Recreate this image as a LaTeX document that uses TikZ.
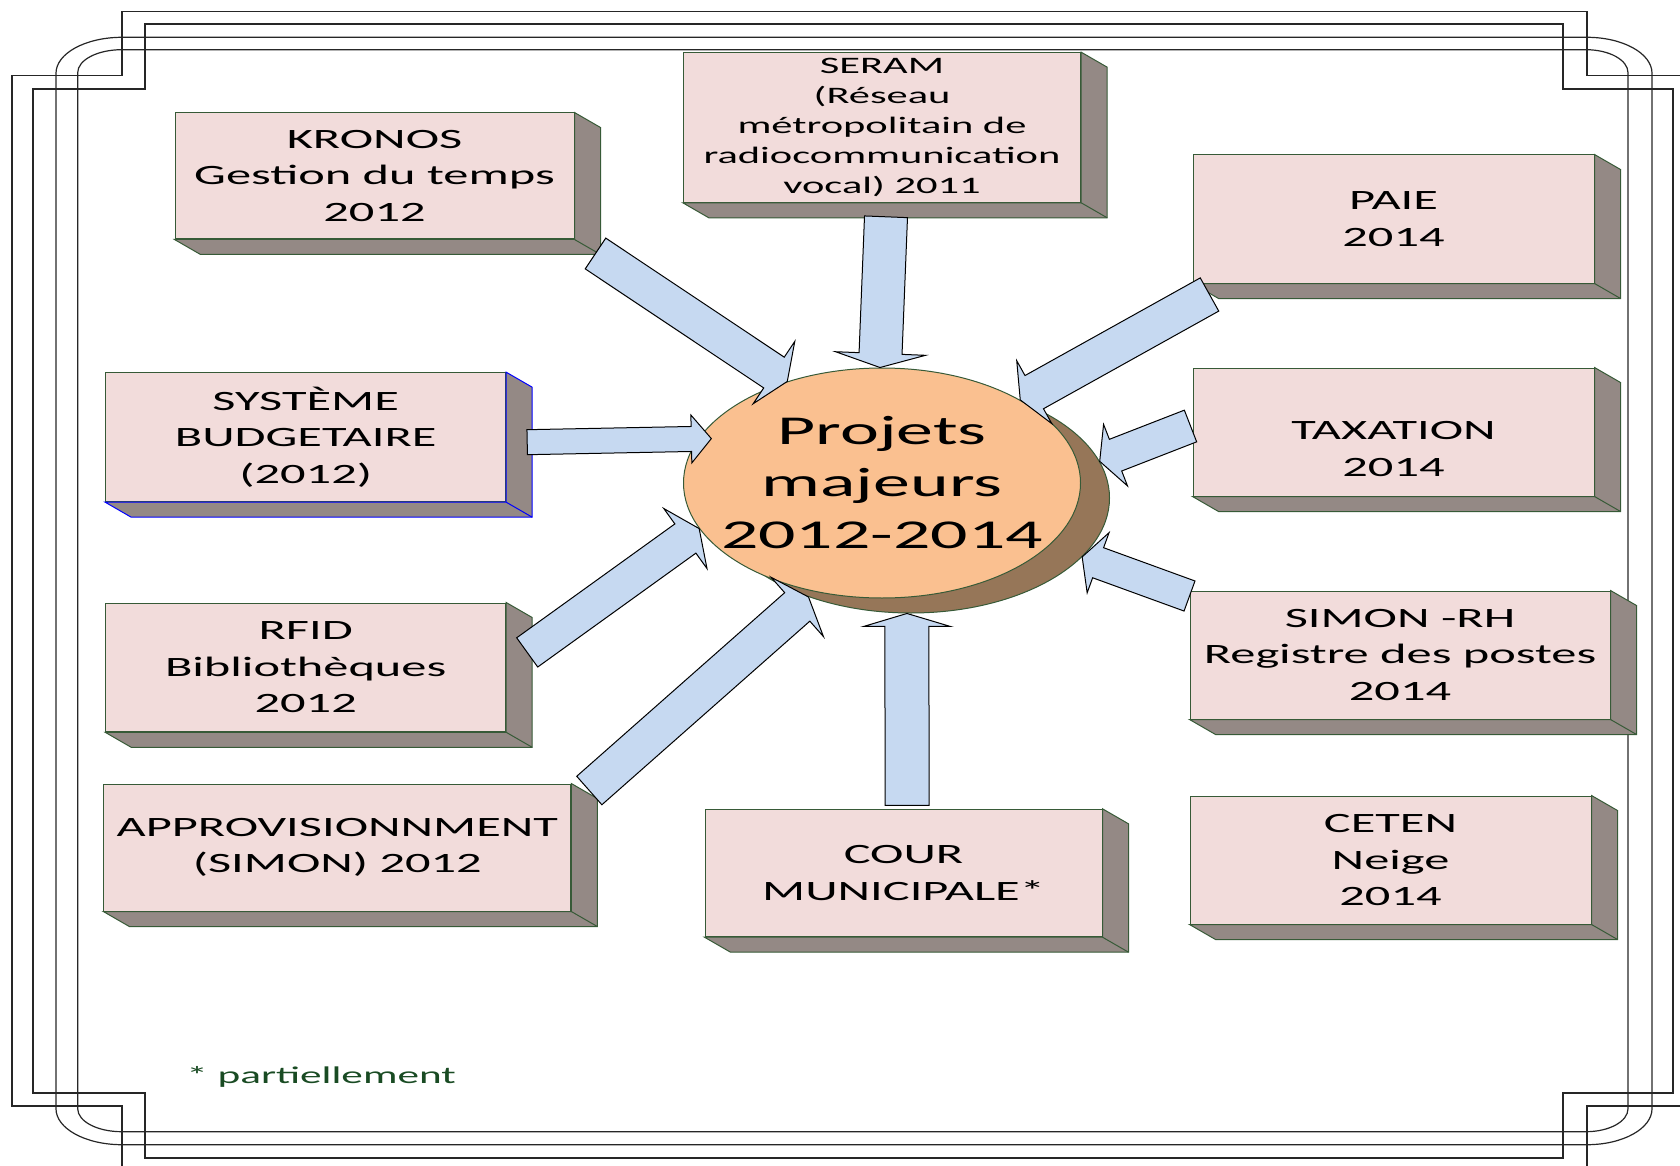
\documentclass[tikz,border=0pt]{standalone}
\usepackage{fontspec}
\setmainfont{Carlito}[FakeStretch=1.8]
\usepackage{tikz}
\usetikzlibrary{shapes.geometric}
\usetikzlibrary{calc}

\definecolor{boxfront}{HTML}{F2DCDB}
\definecolor{boxside}{RGB}{148,137,133}
\definecolor{boxline}{RGB}{55,90,55}
\definecolor{arrowblue}{HTML}{C6D9F1}
\definecolor{projfill}{HTML}{FAC090}
\definecolor{projshade}{RGB}{150,118,88}
\definecolor{notegreen}{RGB}{25,75,35}

% tail, tip, half body width, half head width, head length
\newcommand{\blockarrow}[5]{%
	\coordinate (ba-s) at #1;
	\coordinate (ba-e) at #2;
	\coordinate (ba-h) at ($(ba-e)!#5!(ba-s)$);
	\draw[blockarr] ($(ba-s)!#3!90:(ba-e)$) -- ($(ba-h)!#3!90:(ba-e)$)
		-- ($(ba-h)!#4!90:(ba-e)$) -- (ba-e) -- ($(ba-h)!#4!-90:(ba-e)$)
		-- ($(ba-h)!#3!-90:(ba-e)$) -- ($(ba-s)!#3!-90:(ba-e)$) -- cycle;
}

\tikzset{
	projbox/.style={draw=boxline, fill=boxfront, line width=0.5pt, minimum width=200pt, minimum height=64pt, inner sep=0pt},
	boxtext/.style={align=center, font=\fontsize{14}{18.3}\selectfont},
	boxdepth/.style={draw=boxline, fill=boxside, line width=0.5pt},
	blockarr/.style={draw=black, fill=arrowblue, line width=0.5pt},
	frameline/.style={draw=black!85, line width=0.6pt},
	projoval/.style={ellipse, draw=boxline, line width=0.5pt, minimum width=198.5pt, minimum height=115pt, inner sep=0pt},
}

\begin{document}
\begin{tikzpicture}[x=0.5pt, y=-0.5pt]
	\useasboundingbox (0,0) rectangle (1680,1166);
	\clip (0,0) rectangle (1680,1166);
	% cadre
	\draw[frameline] (122,1180) -- (122,1106) -- (12,1106) -- (12,75.7) -- (122,75.7) -- (122,11.7) -- (1587,11.7) -- (1587,75.7) -- (1690,75.7);
	\draw[frameline] (1587,1180) -- (1587,1106) -- (1690,1106);
	\draw[frameline] (145,24) -- (1563,24) -- (1563,89) -- (1673,89) -- (1673,1093) -- (1563,1093) -- (1563,1158) -- (145,1158) -- (145,1093) -- (33,1093) -- (33,89) -- (145,89) -- cycle;
	\draw[frameline] (122,37.3) -- (1587,37.3) arc[start angle=90, end angle=0, x radius=32.5pt, y radius=18pt] -- (1652,1108.7) arc[start angle=0, end angle=-90, x radius=32.5pt, y radius=18pt] -- (122,1144.7) arc[start angle=270, end angle=180, x radius=33pt, y radius=18pt] -- (56,73.3) arc[start angle=180, end angle=90, x radius=33pt, y radius=18pt] -- cycle;
	\draw[frameline] (121.7,49.7) -- (1586,49.7) arc[start angle=90, end angle=0, x radius=21pt, y radius=11.5pt] -- (1628,1108.7) arc[start angle=0, end angle=-90, x radius=21pt, y radius=11.5pt] -- (121.7,1131.7) arc[start angle=270, end angle=180, x radius=22pt, y radius=11.5pt] -- (77.7,72.7) arc[start angle=180, end angle=90, x radius=22pt, y radius=11.5pt] -- cycle;

	% projets
	\node[projbox, minimum width=199.5pt, minimum height=63pt, label={[boxtext]center:{KRONOS\\Gestion du temps\\2012}}] (kronos) at (374.5,176) {};
	\node[projbox, minimum width=198.7pt, minimum height=74.8pt, label={[boxtext, font=\fontsize{11.8}{15}\selectfont]center:{SERAM\\(Réseau\\métropolitain de\\radiocommunication\\vocal) 2011}}] (seram) at (882,127.5) {};
	\node[projbox, minimum width=200.5pt, label={[boxtext]center:{PAIE\\2014}}] (paie) at (1393.5,219) {};
	\node[projbox, minimum width=200.5pt, label={[boxtext, yshift=-8.5pt]center:{TAXATION\\2014}}] (taxation) at (1393.5,432) {};
	\node[projbox, minimum height=64.5pt, label={[boxtext]center:{SYSTÈME\\BUDGETAIRE\\(2012)}}] (systeme) at (305.7,437.2) {};
	\node[projbox, minimum height=64.4pt, label={[boxtext]center:{RFID\\Bibliothèques\\2012}}] (rfid) at (305.7,667.4) {};
	\node[projbox, minimum width=233.5pt, minimum height=63.5pt, label={[boxtext]center:{APPROVISIONNMENT\\(SIMON) 2012}}] (appro) at (337.3,847.5) {};
	\node[projbox, minimum width=198.5pt, minimum height=63.7pt, label={[boxtext]center:{COUR\\MUNICIPALE*}}] (cour) at (903.5,873) {};
	\node[projbox, minimum width=210pt, label={[boxtext]center:{SIMON -RH\\Registre des postes\\2014}}] (simon) at (1400,655) {};
	\node[projbox, minimum width=200.5pt, label={[boxtext]center:{CETEN\\Neige\\ 2014}}] (ceten) at (1390.5,860) {};

	\foreach \b in {kronos,seram,paie,taxation,rfid,appro,cour,simon,ceten}{
		\draw[boxdepth] (\b.south west) -- ($(\b.south west)+(26,15)$) -- ($(\b.south east)+(26,15)$) -- ($(\b.north east)+(26,15)$) -- (\b.north east) -- (\b.south east) -- cycle;
		\draw[boxdepth] (\b.south east) -- ($(\b.south east)+(26,15)$);
	}
	\draw[boxdepth, draw=blue] (systeme.south west) -- ($(systeme.south west)+(26,15)$) -- ($(systeme.south east)+(26,15)$) -- ($(systeme.north east)+(26,15)$) -- (systeme.north east) -- (systeme.south east) -- cycle;
	\draw[boxdepth, draw=blue] (systeme.south east) -- ($(systeme.south east)+(26,15)$);

	% centre
	\node[projoval, fill=projshade] (projshadow) at (911,498) {};
	\node[projoval, fill=projfill] (proj) at (882,483) {};
	\node[align=center, font=\fontsize{20.5}{26}\selectfont] (projtext) at (proj) {Projets\\majeurs\\2012-2014};

	% fleches
	\blockarrow{($(kronos.south east)+(21,14)$)}{(proj.133)}{9.25pt}{18.75pt}{8pt}
	\blockarrow{($(seram.south)+(4,14)$)}{(proj.91)}{10.75pt}{22.5pt}{7pt}
	\blockarrow{($(paie.south west)+(17,11)$)}{(proj.31)}{9.5pt}{18pt}{8pt}
	\blockarrow{($(taxation.west)+(-2,-6)$)}{(projshadow.11)}{8.5pt}{16.5pt}{8.5pt}
	\blockarrow{($(systeme.east)+(21,5)$)}{($(proj.165)+(10,4)$)}{6.25pt}{12pt}{10pt}
	\blockarrow{($(rfid.east)+(21,-15)$)}{(proj.194)}{9pt}{18.5pt}{8.5pt}
	\blockarrow{($(appro.north east)+(18,7)$)}{(projshadow.224)}{9.5pt}{19.8pt}{7.5pt}
	\blockarrow{($(cour.north)+(3.5,-3.5)$)}{(projshadow.268)}{11pt}{21.7pt}{6.5pt}
	\blockarrow{($(simon.north west)+(0,5.5)$)}{(projshadow.341)}{8pt}{16pt}{8.5pt}

	\node[anchor=west, inner sep=0pt, text=notegreen, font=\fontsize{12}{14}\selectfont] (note) at (186,1077) {* partiellement};
\end{tikzpicture}
\end{document}
